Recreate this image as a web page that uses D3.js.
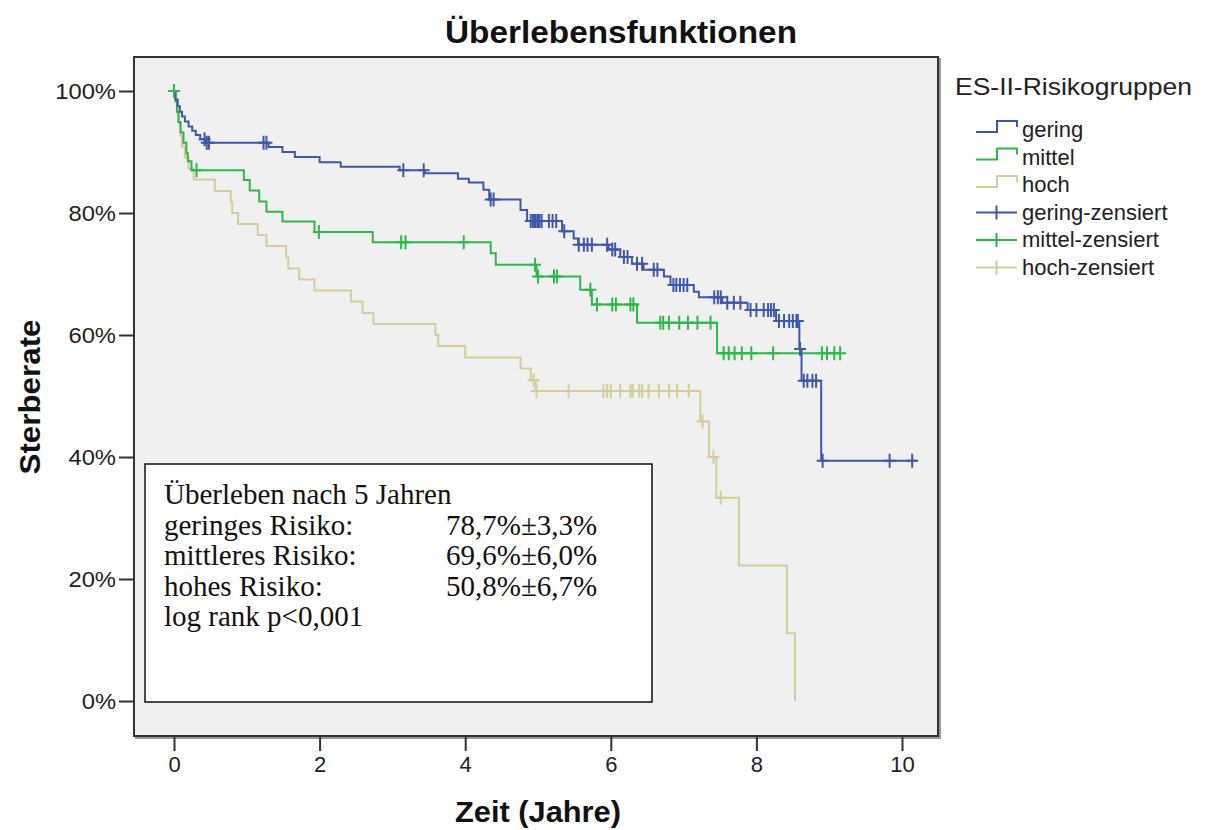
<!DOCTYPE html>
<html>
<head>
<meta charset="utf-8">
<script src="https://cdn.jsdelivr.net/npm/d3@7"></script>
<style>
  html, body { margin: 0; padding: 0; background: #fff; }
  svg { display: block; }
  text { font-family: "Liberation Sans", Arial, sans-serif; }
</style>
</head>
<body>
<svg id="chart" width="1205" height="830"></svg>
<script>
// Kaplan-Meier steps: time (years) at which the estimate changes, and the survival (%) from then on
const geringTimes = [0, 0.02, 0.05, 0.08, 0.11, 0.15, 0.2, 0.25, 0.3, 0.36, 0.44, 1.3, 1.49, 1.66, 2.0, 2.29, 3.1, 3.45, 3.9, 4.05, 4.25, 4.33, 4.76, 4.85, 5.33, 5.49, 5.55, 5.97, 6.13, 6.29, 6.45, 6.73, 6.82, 7.14, 7.21, 7.53, 7.88, 8.27, 8.59, 8.62, 8.89];
const geringSurv  = [100, 98.6, 97.5, 96.6, 95.8, 95.0, 94.2, 93.5, 92.8, 92.1, 91.5, 90.8, 90.0, 89.2, 88.3, 87.6, 87.0, 86.5, 85.6, 85.0, 83.8, 82.2, 80.5, 78.7, 77.0, 75.8, 74.8, 74.0, 72.8, 71.7, 70.7, 69.6, 68.2, 67.1, 66.2, 65.3, 64.1, 62.3, 57.7, 52.5, 39.4];
const geringEnd = 10.2;
const geringCensored = [0.42, 0.45, 0.48, 1.23, 1.27, 3.15, 3.43, 4.35, 4.39, 4.9, 4.93, 4.95, 4.97, 5.0, 5.02, 5.05, 5.15, 5.2, 5.25, 5.36, 5.56, 5.63, 5.68, 5.74, 5.95, 6.02, 6.06, 6.18, 6.23, 6.36, 6.43, 6.59, 6.64, 6.86, 6.9, 6.95, 7.0, 7.05, 7.42, 7.47, 7.51, 7.6, 7.69, 7.78, 7.92, 8.0, 8.1, 8.16, 8.2, 8.24, 8.31, 8.38, 8.45, 8.5, 8.55, 8.57, 8.6, 8.65, 8.7, 8.77, 8.82, 8.91, 9.83, 10.14];

const mittelTimes = [0, 0.02, 0.04, 0.06, 0.09, 0.13, 0.17, 0.19, 0.24, 0.96, 1.04, 1.17, 1.27, 1.49, 1.93, 2.73, 4.35, 4.42, 4.98, 5.58, 5.74, 6.36, 7.46];
const mittelSurv  = [100, 98.3, 96.6, 94.9, 93.2, 91.5, 89.8, 88.5, 87.0, 85.4, 83.7, 81.9, 80.2, 78.6, 76.9, 75.2, 73.4, 71.5, 69.6, 67.4, 65.0, 62.0, 57.0];
const mittelEnd = 9.16;
const mittelCensored = [0, 0.31, 1.99, 3.12, 3.18, 3.98, 4.96, 5.0, 5.22, 5.26, 5.72, 5.81, 6.02, 6.07, 6.27, 6.31, 6.68, 6.72, 6.8, 6.94, 7.06, 7.19, 7.37, 7.55, 7.62, 7.7, 7.8, 7.93, 8.23, 8.9, 8.97, 9.07, 9.15];

const hochTimes = [0, 0.03, 0.05, 0.07, 0.09, 0.11, 0.15, 0.2, 0.27, 0.56, 0.78, 0.8, 0.88, 1.15, 1.27, 1.54, 1.57, 1.72, 1.93, 2.43, 2.59, 2.74, 3.59, 3.63, 4.0, 4.76, 4.9, 4.97, 7.23, 7.35, 7.45, 7.76, 8.42, 8.53];
const hochSurv  = [100, 98.2, 96.4, 94.5, 92.7, 90.9, 89.1, 87.3, 85.5, 83.6, 81.8, 80.0, 78.2, 76.4, 74.6, 72.7, 70.9, 69.1, 67.3, 65.5, 63.6, 61.8, 60.0, 58.2, 56.3, 54.5, 52.6, 50.8, 45.8, 40.0, 33.3, 22.2, 11.1, 0];
const hochEnd = 8.53;
const hochCensored = [4.94, 4.98, 5.42, 5.9, 5.95, 6.0, 6.13, 6.27, 6.3, 6.39, 6.43, 6.52, 6.66, 6.8, 6.91, 7.07, 7.26, 7.41, 7.51];

const groupNames = ["gering", "mittel", "hoch"];
const groupColors = ["#3e58ac", "#2eb848", "#d3ce97"];
const legendLabels = ["gering", "mittel", "hoch", "gering-zensiert", "mittel-zensiert", "hoch-zensiert"];

const xTicks = [0, 2, 4, 6, 8, 10];
const yTicks = [0, 20, 40, 60, 80, 100];

const chartTitle = "Überlebensfunktionen";
const xTitle = "Zeit (Jahre)";
const yTitle = "Sterberate";
const legendTitle = "ES-II-Risikogruppen";

const boxLines = ["Überleben nach 5 Jahren", "geringes Risiko:", "mittleres Risiko:", "hohes Risiko:", "log rank p<0,001"];
const boxValues = ["", "78,7%±3,3%", "69,6%±6,0%", "50,8%±6,7%", ""];

const groups = [
  { times: geringTimes, surv: geringSurv, end: geringEnd, cens: geringCensored },
  { times: mittelTimes, surv: mittelSurv, end: mittelEnd, cens: mittelCensored },
  { times: hochTimes, surv: hochSurv, end: hochEnd, cens: hochCensored }
];

const svg = d3.select("#chart");

// plot frame
const frame = { left: 134, top: 57, right: 938, bottom: 736 };
const x = d3.scaleLinear().domain([0, 10]).range([174, 902]);
const y = d3.scaleLinear().domain([0, 100]).range([701, 91]);

// title
svg.append("text")
  .attr("x", 621).attr("y", 43)
  .attr("text-anchor", "middle")
  .attr("font-size", 32).attr("font-weight", "bold")
  .attr("fill", "#111")
  .attr("textLength", 352).attr("lengthAdjust", "spacingAndGlyphs")
  .text(chartTitle);

// frame shadow + background
svg.append("rect")
  .attr("x", frame.left + 2).attr("y", frame.top + 2)
  .attr("width", frame.right - frame.left).attr("height", frame.bottom - frame.top)
  .attr("fill", "none").attr("stroke", "#9a9a9a").attr("stroke-width", 2);
svg.append("rect")
  .attr("x", frame.left).attr("y", frame.top)
  .attr("width", frame.right - frame.left).attr("height", frame.bottom - frame.top)
  .attr("fill", "#f0f0f0").attr("stroke", "#333").attr("stroke-width", 2);

// axes
const yAxis = d3.axisLeft(y).tickValues(yTicks).tickFormat(d => d + "%").tickSize(14).tickPadding(3);
const gy = svg.append("g").attr("transform", `translate(${frame.left - 1},0)`).call(yAxis);
const xAxis = d3.axisBottom(x).tickValues(xTicks).tickFormat(d3.format("d")).tickSize(14).tickPadding(5);
const gx = svg.append("g").attr("transform", `translate(0,${frame.bottom + 1})`).call(xAxis);
[gy, gx].forEach(g => {
  g.select(".domain").remove();
  g.selectAll(".tick line").attr("stroke", "#333").attr("stroke-width", 2);
  g.selectAll(".tick text").attr("font-size", 22).attr("fill", "#222")
    .attr("font-family", "'Liberation Sans', Arial, sans-serif");
});
gy.selectAll(".tick text").attr("textLength", function () {
  return this.getComputedTextLength() * 1.08;
}).attr("lengthAdjust", "spacingAndGlyphs");

// axis titles
svg.append("text")
  .attr("x", 538).attr("y", 822)
  .attr("text-anchor", "middle")
  .attr("font-size", 29).attr("font-weight", "bold").attr("fill", "#111")
  .attr("textLength", 166).attr("lengthAdjust", "spacingAndGlyphs")
  .text(xTitle);
svg.append("text")
  .attr("transform", "translate(40,397) rotate(-90)")
  .attr("text-anchor", "middle")
  .attr("font-size", 30).attr("font-weight", "bold").attr("fill", "#111")
  .attr("textLength", 155).attr("lengthAdjust", "spacingAndGlyphs")
  .text(yTitle);

// survival curves
const line = d3.line().x(d => x(d[0])).y(d => y(d[1])).curve(d3.curveStepAfter);
const plot = svg.append("g");

function survAt(g, t) {
  let v = g.surv[0];
  for (let i = 0; i < g.times.length; i++) if (g.times[i] <= t) v = g.surv[i];
  return v;
}

[2, 1, 0].forEach(i => {
  const g = groups[i];
  const pts = g.times.map((t, k) => [t, g.surv[k]]);
  pts.push([g.end, g.surv[g.surv.length - 1]]);
  plot.append("path")
    .attr("d", line(pts))
    .attr("fill", "none")
    .attr("stroke", groupColors[i])
    .attr("stroke-width", 2);
});

// censoring marks
[0, 1, 2].forEach(i => {
  const g = groups[i];
  plot.append("g").selectAll("path")
    .data(g.cens)
    .join("path")
    .attr("d", t => {
      const cx = x(t), cy = y(survAt(g, t));
      return `M${cx - 6},${cy}H${cx + 6}M${cx},${cy - 7}V${cy + 7}`;
    })
    .attr("fill", "none")
    .attr("stroke", groupColors[i])
    .attr("stroke-width", 2);
});

// annotation box
const box = { x: 145, y: 464, w: 507, h: 238 };
svg.append("rect")
  .attr("x", box.x).attr("y", box.y).attr("width", box.w).attr("height", box.h)
  .attr("fill", "#fff").attr("stroke", "#111").attr("stroke-width", 1.5);
const boxText = svg.append("g").attr("fill", "#111");
boxLines.forEach((s, k) => {
  boxText.append("text").attr("x", 164).attr("y", 504 + k * 30.5)
    .style("font-family", "'Liberation Serif', 'Times New Roman', serif")
    .style("font-size", "29px").text(s);
  if (boxValues[k]) {
    boxText.append("text").attr("x", 446).attr("y", 504 + k * 30.5)
      .style("font-family", "'Liberation Serif', 'Times New Roman', serif")
      .style("font-size", "29px").text(boxValues[k]);
  }
});

// legend
const legend = svg.append("g");
legend.append("text")
  .attr("x", 955).attr("y", 95)
  .attr("font-size", 24).attr("fill", "#222")
  .attr("textLength", 237).attr("lengthAdjust", "spacingAndGlyphs")
  .text(legendTitle);
legendLabels.forEach((lab, k) => {
  const cy = 130 + k * 27.5;
  const col = groupColors[k % 3];
  if (k < 3) {
    legend.append("path")
      .attr("d", `M976,${cy + 2}H997V${cy - 9}H1017V${cy - 3}`)
      .attr("fill", "none").attr("stroke", col).attr("stroke-width", 2);
  } else {
    legend.append("path")
      .attr("d", `M976,${cy}H1017M996.5,${cy - 7}V${cy + 7}`)
      .attr("fill", "none").attr("stroke", col).attr("stroke-width", 2);
  }
  const t = legend.append("text")
    .attr("x", 1022).attr("y", cy + 7)
    .attr("font-size", 22).attr("fill", "#222")
    .text(lab);
});
</script>
</body>
</html>
